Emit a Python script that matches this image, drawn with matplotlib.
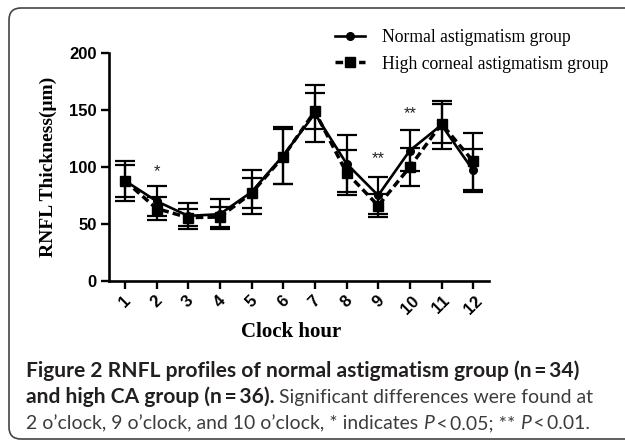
import matplotlib
matplotlib.use("Agg")
import matplotlib.pyplot as plt
from matplotlib.lines import Line2D
from matplotlib.patches import FancyBboxPatch
from matplotlib.transforms import IdentityTransform

# ---------------- data ----------------
hours = [1, 2, 3, 4, 5, 6, 7, 8, 9, 10, 11, 12]
hour_labels = [str(h) for h in hours]
normal_mean = [88, 70, 57, 58.5, 78, 110, 147, 103, 75, 114.5, 137, 97]
normal_sd = [17.5, 13.5, 11.5, 13, 19, 25, 25, 25, 16, 18, 21, 19]
hca_mean = [88, 63.5, 55.5, 56, 77, 109, 149, 95, 66, 100, 138, 105]
hca_sd = [14, 10.5, 7.5, 9, 13, 24, 16, 20, 10, 17, 17, 25]
sig_hours = [2, 9, 10]
sig_labels = ["*", "**", "**"]
sig_y = [96, 107, 147]
yticks = [0, 50, 100, 150, 200]
series_names = ["Normal astigmatism group", "High corneal astigmatism group"]

W, H = 625, 441
fig = plt.figure(figsize=(W / 100, H / 100), dpi=100)
fig.patch.set_facecolor("white")

ax = fig.add_axes([109 / W, 1 - 280.7 / H, 380 / W, 227.4 / H])

dash = (0, (2.2, 1.2))
ax.errorbar(hours, hca_mean, yerr=hca_sd, fmt="s", color="black", ms=6.5,
            linestyle=dash, lw=2.5, elinewidth=1.6, capsize=7, capthick=1.6)
ax.errorbar(hours, normal_mean, yerr=normal_sd, fmt="o", color="black", ms=5.5,
            linestyle="-", lw=1.9, elinewidth=1.6, capsize=7, capthick=1.6)

for h, lab, yv in zip(sig_hours, sig_labels, sig_y):
    ax.text(h, yv, lab, ha="center", va="center", fontsize=12, color="#222222",
            family="Liberation Sans")

ax.set_xlim(0.5, 12.5)
ax.set_ylim(0, 200)
ax.set_yticks(yticks)
ax.set_yticklabels([str(v) for v in yticks], fontsize=12, fontweight="bold",
                   family="Liberation Sans")
ax.set_xticks(hours)
ax.set_xticklabels(hour_labels, fontsize=12, fontweight="bold",
                   family="Liberation Sans", rotation=45, ha="center", va="top")
for s in ["top", "right"]:
    ax.spines[s].set_visible(False)
for s in ["left", "bottom"]:
    ax.spines[s].set_linewidth(1.9)
ax.tick_params(axis="both", length=6, width=1.7, direction="out", pad=3)
ax.patch.set_alpha(0)

# axis titles
fig.text(48 / W, 1 - 167 / H, "RNFL Thickness(μm)", rotation=90, ha="center",
         va="center", fontsize=14, fontweight="bold", family="Liberation Serif")
fig.text(291 / W, 1 - 332 / H, "Clock hour", ha="center", va="center",
         fontsize=15, fontweight="bold", family="Liberation Serif")

# legend
handles = [
    Line2D([], [], color="black", lw=1.9, marker="o", ms=5.5, linestyle="-"),
    Line2D([], [], color="black", lw=2.5, marker="s", ms=6.5, linestyle=dash),
]
fig.legend(handles, series_names, loc="upper left",
           bbox_to_anchor=(326 / W, 1 - 20 / H), bbox_transform=fig.transFigure,
           frameon=False, borderpad=0, handlelength=1.7, handletextpad=0.95,
           labelspacing=0.55, prop={"family": "Liberation Serif", "size": 12.7})

# rounded frame
frame = FancyBboxPatch((9, 2), 700, 431, boxstyle="round,pad=0,rounding_size=12",
                       transform=IdentityTransform(), facecolor="none",
                       edgecolor="#444444", lw=1.2)
fig.add_artist(frame)

# caption
renderer = fig.canvas.get_renderer()
CAP_FONT = ["Lato", "DejaVu Sans"]


def measure(s, fs, weight="normal", style="normal"):
    t1 = fig.text(0, 0, "|" + s + "|", fontsize=fs, fontweight=weight,
                  fontstyle=style, family=CAP_FONT, transform=IdentityTransform())
    t2 = fig.text(0, 0, "||", fontsize=fs, fontweight=weight,
                  fontstyle=style, family=CAP_FONT, transform=IdentityTransform())
    w = t1.get_window_extent(renderer).width - t2.get_window_extent(renderer).width
    t1.remove()
    t2.remove()
    return w


BOLD_C = "#231f20"
REG_C = "#3c3c3c"
line1 = [("Figure 2 RNFL profiles of normal astigmatism group (n\u2009=\u200934)", "bold", "normal", BOLD_C)]
line2 = [("and high CA group (n\u2009=\u200936).", "bold", "normal", BOLD_C),
         (" Significant differences were found at", "normal", "normal", REG_C)]
line3 = [("2 o\u2019clock, 9 o\u2019clock, and 10 o\u2019clock, * indicates ", "normal", "normal", REG_C),
         ("P", "normal", "italic", REG_C),
         ("\u2009<\u20090.05; ** ", "normal", "normal", REG_C),
         ("P", "normal", "italic", REG_C),
         ("\u2009<\u20090.01.", "normal", "normal", REG_C)]

# fit bold size to line 1 width, regular size to line 3 width
w1 = sum(measure(t, 10, w, s) for t, w, s, c in line1)
fs_bold = 10 * (578 - 26) / w1
w3 = sum(measure(t, 10, w, s) for t, w, s, c in line3)
fs_reg = 10 * (588 - 26) / w3


def draw_line(x0, yb, parts):
    x = x0
    for t, w, s, c in parts:
        fs = fs_bold if w == "bold" else fs_reg
        fig.text(x, H - yb, t, fontsize=fs, fontweight=w, fontstyle=s,
                 color=c, family=CAP_FONT, transform=IdentityTransform(),
                 ha="left", va="baseline")
        x += measure(t, fs, w, s)


draw_line(26, 377, line1)
draw_line(26, 403, line2)
draw_line(26, 429, line3)

fig.savefig("out.png", dpi=100)
